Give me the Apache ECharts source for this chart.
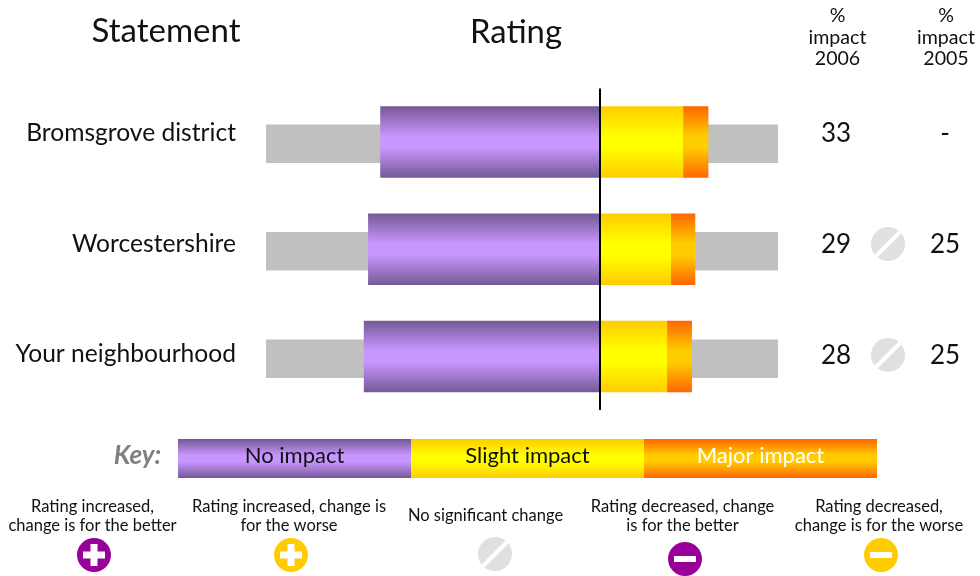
<!DOCTYPE html>
<html><head><meta charset="utf-8">
<style>html,body{margin:0;padding:0;background:#fff}#c{width:980px;height:576px}</style>
<script src="https://cdn.jsdelivr.net/npm/echarts@6/dist/echarts.min.js"></script>
</head><body><div id="c"></div>
<script>
const statements = ['Bromsgrove district','Worcestershire','Your neighbourhood'];
const noImpact = [-67,-70.7,-72];
const slightImpact = [25.3,21.6,20.4];
const majorImpact = [7.7,7.4,7.6];
const scaleLeft = [-101.8,-101.8,-101.8];
const scaleRight = [54.2,54.2,54.2];
const impact2006 = ['33','29','28'];
const impact2005 = ['-','25','25'];
const changeIcon = [null,'same','same'];
const keyLabels = ['No impact','Slight impact','Major impact'];
const iconNotes = [
 ['Rating increased,\nchange is for the better','plus','#990099'],
 ['Rating increased, change is\nfor the worse','plus','#FFCC00'],
 ['No significant change','same','#E0E0E0'],
 ['Rating decreased, change\nis for the better','minus','#990099'],
 ['Rating decreased,\nchange is for the worse','minus','#FFCC00']];

const FONT='Lato';
const vg=(a,b,s1,s2)=>({type:'linear',x:0,y:0,x2:0,y2:1,colorStops:[{offset:0,color:a},{offset:s1,color:b},{offset:s2,color:b},{offset:1,color:a}]});
const purple=vg('#755995','#C896FF',.42,.58), yellow=vg('#FFCC00','#FFFF00',.42,.58), orange=vg('#FF6600','#FFCC00',.42,.58);

function icon(kind,cx,cy,color){
  const kids=[{type:'circle',shape:{cx,cy,r:17},style:{fill:color}}];
  const w={fill:'#fff'};
  if(kind==='plus'){kids.push({type:'rect',shape:{x:cx-11,y:cy-3.5,width:22,height:7},style:w},{type:'rect',shape:{x:cx-3.5,y:cy-11,width:7,height:22},style:w});}
  if(kind==='minus'){kids.push({type:'rect',shape:{x:cx-11,y:cy-3,width:22,height:6},style:w});}
  if(kind==='same'){kids.push({type:'line',shape:{x1:cx-12,y1:cy+12,x2:cx+12,y2:cy-12},style:{stroke:'#fff',lineWidth:4}});}
  return kids;
}
const txt=(text,x,y,size,o={})=>({type:'text',x,y,style:Object.assign({text,fontFamily:FONT,fontSize:size,fill:'#111',align:'center',verticalAlign:'middle',lineHeight:o.lh},o.style||{})});

const g=[];
g.push(txt('Statement',166,31.5,33),txt('Rating',516,32.5,32.8));
g.push(txt('%\nimpact\n2006',837.5,37.5,19.6,{lh:21.5}),txt('%\nimpact\n2005',946,37.5,19.6,{lh:21.5}));
const rowY=[134,245,356], iconRowY=[133,244,355];
rowY.forEach((y,i)=>{
  g.push(txt(impact2006[i],836,y,26),txt(impact2005[i],945,y,26));
  if(changeIcon[i]) g.push(...icon(changeIcon[i],888,iconRowY[i],'#E0E0E0'));
});
g.push(txt('Key:',137.5,456,26,{style:{fill:'#808080',fontStyle:'italic',fontWeight:'bold'}}));
const keyFill=[purple,yellow,orange], keyText=['#111','#111','#fff'];
keyLabels.forEach((k,i)=>{
  g.push({type:'rect',shape:{x:178+233*i,y:439,width:233,height:39},style:{fill:keyFill[i]}});
  g.push(txt(k,294.5+233*i,456,22,{style:{fill:keyText[i]}}));
});
const noteX=[92.5,289,485.5,682.5,879], iconX=[94,291,495,685,881], iconY=[555,555,554,559,555];
iconNotes.forEach((n,i)=>{
  g.push(txt(n[0],noteX[i],516,16.5,{lh:19}));
  g.push(...icon(n[1],iconX[i],iconY[i],n[2]));
});

const xAx=(gi)=>({type:'value',gridIndex:gi,min:-101.8,max:54.2,show:false});
const chart=echarts.init(document.getElementById('c'),null,{renderer:'canvas'});
chart.setOption({
  animation:false,
  textStyle:{fontFamily:FONT},
  grid:[{left:266,width:512,top:90,height:322.5},{left:266,width:512,top:88.5,height:321.5},{left:266,width:512,top:78,height:331.5}],
  xAxis:[xAx(0),xAx(1),xAx(2)],
  yAxis:[
    {type:'category',gridIndex:0,inverse:true,data:statements,show:false},
    {type:'category',gridIndex:1,inverse:true,data:statements,show:false},
    {type:'category',gridIndex:2,inverse:true,data:statements,axisLine:{show:false},axisTick:{show:false},
     axisLabel:{margin:30,fontSize:24.6,color:'#111',fontFamily:FONT}}
  ],
  series:[
    {type:'bar',name:'scale',xAxisIndex:0,yAxisIndex:0,data:scaleLeft,barWidth:38.5,barGap:'-100%',itemStyle:{color:'#C0C0C0'}},
    {type:'bar',name:'scaleR',xAxisIndex:0,yAxisIndex:0,data:scaleRight,barWidth:38.5,barGap:'-100%',itemStyle:{color:'#C0C0C0'}},
    {type:'bar',name:'No impact',xAxisIndex:1,yAxisIndex:1,stack:'r',data:noImpact,barWidth:71.5,itemStyle:{color:purple},
     markLine:{silent:true,symbol:'none',label:{show:false},z:10,lineStyle:{color:'#000',width:2,type:'solid'},data:[{xAxis:0}]}},
    {type:'bar',name:'Slight impact',xAxisIndex:1,yAxisIndex:1,stack:'r',data:slightImpact,barWidth:71.5,itemStyle:{color:yellow}},
    {type:'bar',name:'Major impact',xAxisIndex:1,yAxisIndex:1,stack:'r',data:majorImpact,barWidth:71.5,itemStyle:{color:orange}}
  ],
  graphic:{elements:g}
});
</script></body></html>
